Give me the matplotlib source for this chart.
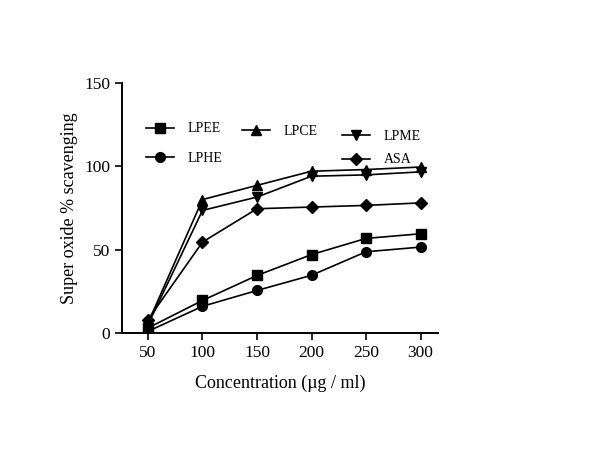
import numpy as np
import matplotlib.pyplot as plt

plt.rcParams['font.family'] = ['Liberation Serif', 'DejaVu Serif']

conc = [50, 100, 150, 200, 250, 300]
lpee = [3, 19.5, 34.5, 47, 56.7, 59.5]
lphe = [1, 16, 25.5, 34.6, 48.7, 51.5]
lpce = [6, 80, 88.5, 97, 98, 99.5]
lpme = [5, 73.5, 81.5, 94, 94.8, 96.6]
asa = [8, 54.5, 74.5, 75.5, 76.5, 78]

fig = plt.figure(figsize=(6, 4.5), dpi=100)
ax = fig.add_axes([0.203, 0.26, 0.527, 0.556])

kw = dict(color='black', lw=1.2, markersize=7)
l1, = ax.plot(conc, lpee, marker='s', label='LPEE', **kw)
l2, = ax.plot(conc, lphe, marker='o', label='LPHE', **kw)
l3, = ax.plot(conc, lpce, marker='^', label='LPCE', **kw)
l4, = ax.plot(conc, lpme, marker='v', label='LPME', **kw)
l5, = ax.plot(conc, asa, marker='D', label='ASA', markersize=6, color='black', lw=1.2)

ax.set_xlim(26, 316)
ax.set_ylim(0, 150)
ax.set_xticks(conc)
ax.set_yticks([0, 50, 100, 150])
ax.spines['top'].set_visible(False)
ax.spines['right'].set_visible(False)
for s in ['left', 'bottom']:
    ax.spines[s].set_linewidth(1.4)
ax.tick_params(direction='out', length=5, width=1.2, labelsize=12.5)
ax.set_xlabel('Concentration (µg / ml)', fontsize=13, labelpad=10)
ax.set_ylabel('Super oxide % scavenging', fontsize=13, labelpad=4)

lkw = dict(frameon=False, fontsize=10, handlelength=2.0, handletextpad=1.0,
           borderaxespad=0, borderpad=0)
leg1 = fig.legend(handles=[l1, l2], loc='upper left', bbox_to_anchor=(0.243, 0.728),
                  labelspacing=1.2, **lkw)
leg2 = fig.legend(handles=[l3], loc='upper left', bbox_to_anchor=(0.403, 0.722),
                  labelspacing=1.2, **lkw)
leg3 = fig.legend(handles=[l4, l5], loc='upper left', bbox_to_anchor=(0.57, 0.711),
                  labelspacing=0.75, **lkw)

fig.savefig('out.png', dpi=100)
